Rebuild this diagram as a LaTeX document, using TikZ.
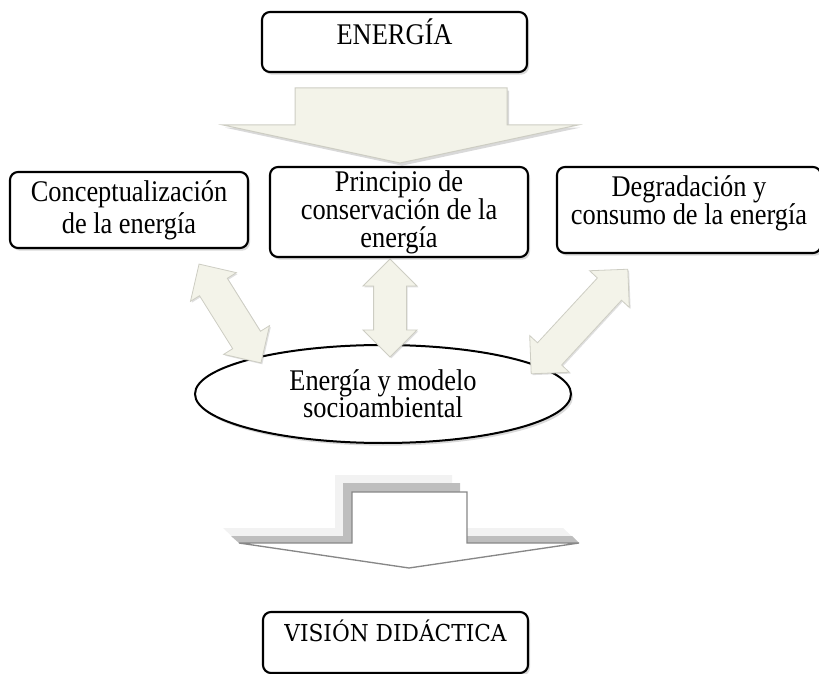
\documentclass[tikz,border=0pt]{standalone}
\usepackage{fontspec}
\setmainfont[FakeStretch=0.88]{Liberation Serif}
\newfontfamily\visfont[FakeStretch=0.93]{DejaVu Serif}
\usetikzlibrary{shapes.geometric,shapes.arrows,shadows,calc}

\definecolor{arrowfill}{RGB}{243,243,233}
\definecolor{arrowedge}{RGB}{205,205,195}
\definecolor{ghostdark}{RGB}{190,190,190}
\definecolor{ghostlight}{RGB}{242,242,242}
\definecolor{outlinegray}{RGB}{135,135,135}

\tikzset{every picture/.style={line width=0.75pt}}
\tikzset{
  boxnode/.style={draw, line width=1.6pt, rounded corners=6pt, fill=white, align=center, inner sep=0pt,
    drop shadow={shadow xshift=1.5pt, shadow yshift=-2pt, opacity=0.3}},
  dblarrow/.style={double arrow, draw=arrowedge, line width=0.6pt, fill=arrowfill, inner xsep=0pt, inner ysep=12pt,
    minimum width=40pt, double arrow head extend=8pt,
    drop shadow={shadow xshift=1pt, shadow yshift=-1pt, opacity=0.25}}
}

\begin{document}
\begin{tikzpicture}[x=0.75pt,y=0.75pt,yscale=-1,xscale=1]
\useasboundingbox (0,0) rectangle (819,674);

%Shape: Down Arrow (big)
\draw [draw=arrowedge, fill=arrowfill, drop shadow={shadow xshift=1.5pt, shadow yshift=-2pt, opacity=0.3}]
  (295,88) -- (507,88) -- (507,125) -- (578,125) -- (400,163) -- (223,125) -- (295,125) -- cycle ;

%Shape: Ellipse
\node [ellipse, draw, line width=1.5pt, fill=white, inner sep=0pt, minimum width=282pt, minimum height=73.5pt,
  align=center, font=\fontsize{22.5}{20.5}\selectfont,
  drop shadow={shadow xshift=1.5pt, shadow yshift=-2pt, opacity=0.3}] (modelo) at (383,394) {Energía y modelo\\socioambiental};

%Ends of the up-down arrows
\coordinate (la) at (199,264);
\coordinate (lb) at (261,363);
\coordinate (ma) at (390,259);
\coordinate (mb) at (390,357);
\coordinate (ra) at (628,269);
\coordinate (rb) at (531,374);

%Shape: Up Down Arrows
\path let \p1=($(lb)-(la)$), \n1={veclen(\x1,\y1)}, \n2={atan2(\y1,\x1)} in
  ($(la)!0.5!(lb)$) node [dblarrow, minimum height=\n1, rotate=-\n2] (dleft) {};
\path let \p1=($(mb)-(ma)$), \n1={veclen(\x1,\y1)}, \n2={atan2(\y1,\x1)} in
  ($(ma)!0.5!(mb)$) node [dblarrow, minimum height=\n1, rotate=-\n2] (dmid) {};
\path let \p1=($(rb)-(ra)$), \n1={veclen(\x1,\y1)}, \n2={atan2(\y1,\x1)} in
  ($(ra)!0.5!(rb)$) node [dblarrow, minimum height=\n1, rotate=-\n2] (dright) {};

% Text Node
\node [boxnode, minimum width=198.75pt, minimum height=45pt, text depth=15pt,
  font=\fontsize{22.5}{22}\selectfont] (energia) at (394.5,42) {ENERGÍA};
% Text Node
\node [boxnode, minimum width=178.5pt, minimum height=57pt,
  font=\fontsize{22.5}{24}\selectfont] (concep) at (129,210) {Conceptualización\\de la energía};
% Text Node
\node [boxnode, minimum width=193.5pt, minimum height=67.5pt,
  font=\fontsize{22.5}{21}\selectfont] (princ) at (399,212) {Principio de\\conservación de la\\energía};
% Text Node
\node [boxnode, minimum width=198pt, minimum height=64.5pt, text depth=15pt,
  font=\fontsize{22.5}{18.5}\selectfont] (degrad) at (689,210) {Degradación y\\consumo de la energía};

%Shape: Down Arrow (outline, with ghost layers)
\fill [ghostlight] (223,528) -- (335,528) -- (335,475) -- (452,475) -- (452,528) -- (563,528) -- (579,543) -- (239,543) -- cycle ;
\fill [ghostdark] (231,536) -- (343,536) -- (343,483) -- (460,483) -- (460,536) -- (572,536) -- (579,543) -- (239,543) -- cycle ;
\draw [outlinegray, line width=1pt, fill=white]
  (352,492) -- (467,492) -- (467,543) -- (579,543) -- (409,568) -- (239,543) -- (352,543) -- cycle ;

% Text Node
\node [boxnode, minimum width=198.75pt, minimum height=45.75pt, text depth=17.5pt,
  font=\visfont\fontsize{17.5}{18}\selectfont] (vision) at (395.5,642.5) {VISIÓN DIDÁCTICA};

\end{tikzpicture}
\end{document}
